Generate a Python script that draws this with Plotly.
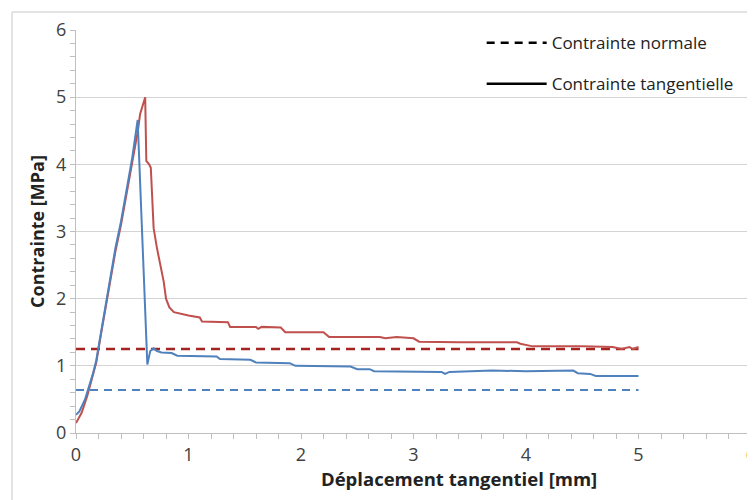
import plotly.graph_objects as go

# Tangential stress, test 1 (red)
red_x = [0, 0.05, 0.10, 0.15, 0.18, 0.22, 0.26, 0.30, 0.35, 0.40, 0.45, 0.50, 0.55, 0.57, 0.60, 0.615,
         0.625, 0.65, 0.665, 0.675, 0.69, 0.72, 0.75, 0.78, 0.80, 0.83, 0.87, 0.92, 1.00, 1.10, 1.12,
         1.35, 1.37, 1.60, 1.62, 1.65, 1.82, 1.86, 2.20, 2.25, 2.70, 2.75, 2.85, 3.00, 3.05, 3.40,
         3.92, 3.95, 4.06, 4.50, 4.77, 4.85, 4.92, 4.95, 5.00]
red_y = [0.15, 0.30, 0.55, 0.85, 1.05, 1.45, 1.85, 2.20, 2.70, 3.10, 3.55, 4.00, 4.50, 4.75, 4.90, 5.00,
         4.05, 4.00, 3.95, 3.60, 3.05, 2.75, 2.50, 2.25, 2.00, 1.87, 1.80, 1.78, 1.75, 1.72, 1.66,
         1.65, 1.58, 1.58, 1.55, 1.58, 1.57, 1.50, 1.50, 1.43, 1.43, 1.41, 1.43, 1.41, 1.36, 1.35,
         1.35, 1.33, 1.29, 1.29, 1.28, 1.25, 1.28, 1.25, 1.28]

# Tangential stress, test 2 (blue)
blue_x = [0, 0.03, 0.08, 0.10, 0.15, 0.18, 0.22, 0.26, 0.30, 0.35, 0.40, 0.45, 0.50, 0.548,
          0.634, 0.66, 0.69, 0.72, 0.76, 0.85, 0.90, 1.25, 1.28, 1.55, 1.60, 1.90, 1.95, 2.44,
          2.50, 2.61, 2.65, 3.25, 3.28, 3.32, 3.65, 3.70, 4.00, 4.20, 4.42, 4.46, 4.57, 4.62, 5.00]
blue_y = [0.27, 0.32, 0.50, 0.60, 0.88, 1.08, 1.48, 1.88, 2.25, 2.75, 3.15, 3.60, 4.10, 4.66,
          1.02, 1.22, 1.26, 1.22, 1.20, 1.19, 1.15, 1.14, 1.10, 1.09, 1.05, 1.04, 1.00, 0.99,
          0.95, 0.95, 0.92, 0.91, 0.88, 0.91, 0.92, 0.93, 0.92, 0.93, 0.93, 0.89, 0.88, 0.85, 0.85]

# Normal stress levels
normal_x = [0, 5]
normal_red = [1.25, 1.25]
normal_blue = [0.64, 0.64]

legend_labels = ["Contrainte normale", "Contrainte tangentielle"]
x_title = "Déplacement tangentiel [mm]"
y_title = "Contrainte [MPa]"

RED = "#C0504D"
BLUE = "#4F81BD"
FONT = "Open Sans"

fig = go.Figure()
fig.add_trace(go.Scatter(x=normal_x, y=normal_red, mode="lines", showlegend=False,
                         line=dict(color="#A32420", width=2.5, dash="9px,6px")))
fig.add_trace(go.Scatter(x=normal_x, y=normal_blue, mode="lines", showlegend=False,
                         line=dict(color=BLUE, width=1.8, dash="8px,6px")))
fig.add_trace(go.Scatter(x=red_x, y=red_y, mode="lines", showlegend=False,
                         line=dict(color=RED, width=2)))
fig.add_trace(go.Scatter(x=blue_x, y=blue_y, mode="lines", showlegend=False,
                         line=dict(color=BLUE, width=2)))

# legend entries
fig.add_trace(go.Scatter(x=[None], y=[None], mode="lines", name=legend_labels[0], legendgroup="a",
                         line=dict(color="black", width=2.5, dash="8px,6px")))
fig.add_trace(go.Scatter(x=[None], y=[None], mode="lines", name=legend_labels[1], legendgroup="b",
                         line=dict(color="black", width=2.5)))

fig.update_layout(
    width=755, height=500,
    margin=dict(l=68, r=12, t=22, b=75),
    paper_bgcolor="white", plot_bgcolor="white",
    font=dict(family=FONT, size=17, color="#404040"),
    legend=dict(x=0.601, y=1.012, xanchor="left", yanchor="top", bgcolor="rgba(0,0,0,0)",
                font=dict(family=FONT, size=17, color="#222"),
                tracegroupgap=16, itemwidth=60),
    xaxis=dict(range=[0, 6], dtick=1, showgrid=False, zeroline=False, automargin=False,
               showline=True, linecolor="#BFBFBF", linewidth=1,
               ticks="outside", ticklen=5, tickcolor="#BFBFBF", ticklabeloverflow="allow",
               minor=dict(dtick=0.2, ticks="outside", ticklen=5, tickcolor="#BFBFBF", showgrid=False),
               tickfont=dict(size=18, color="#404040")),
    yaxis=dict(range=[0, 6], dtick=1, showgrid=True, gridcolor="#D4D4D4", gridwidth=1, zeroline=False,
               automargin=False,
               showline=True, linecolor="#BFBFBF", linewidth=1,
               ticks="outside", ticklen=5, tickcolor="#BFBFBF",
               minor=dict(dtick=0.2, ticks="outside", ticklen=5, tickcolor="#BFBFBF", showgrid=False),
               title=dict(text=f"<b>{y_title}</b>", standoff=6,
                          font=dict(family=FONT, size=18, color="#222")),
               tickfont=dict(size=18, color="#404040")),
    annotations=[dict(text=f"<b>{x_title}</b>", xref="paper", yref="paper", x=0.567, y=-0.1117,
                      xanchor="center", yanchor="middle", showarrow=False,
                      font=dict(family=FONT, size=18.5, color="#222"))],
    shapes=[dict(type="rect", xref="paper", yref="paper", x0=-0.0948, y0=-0.3, x1=1.2, y1=1.0447,
                 line=dict(color="#C8C8C8", width=1), fillcolor="rgba(0,0,0,0)", layer="below")],
)

fig.write_html("out.html")
